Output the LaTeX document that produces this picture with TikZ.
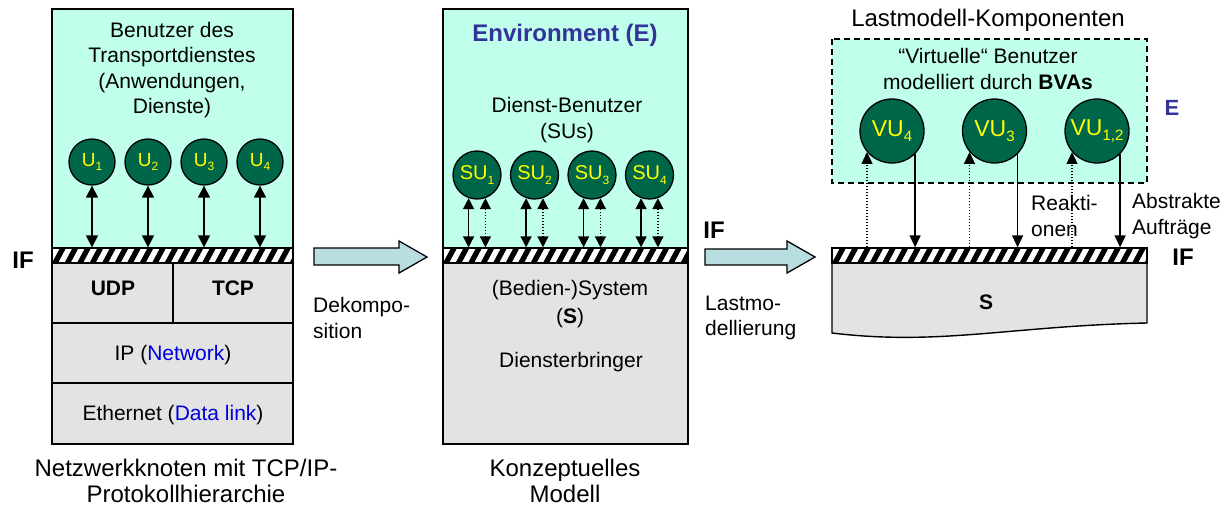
\documentclass[tikz,border=0pt]{standalone}
\usepackage{fontspec}
\setmainfont{Liberation Sans}
\usetikzlibrary{arrows.meta,positioning}
\definecolor{envcyan}{HTML}{C0FFEB}
\definecolor{sysgrey}{HTML}{E3E3E3}
\definecolor{userg}{HTML}{00664A}
\definecolor{useryel}{HTML}{FFFF00}
\definecolor{arrblue}{HTML}{B8DEE2}
\definecolor{linkblue}{HTML}{0000DD}
\definecolor{envblue}{HTML}{333399}
\newcommand{\usub}[2][12]{\raisebox{-0.4ex}{\fontsize{#1}{#1}\selectfont#2}}
\tikzset{
	ifband/.style={draw,line width=1.3pt,fill=white,minimum height=15pt,inner sep=0pt,
		path picture={\foreach \k in {-1,...,27}
			\fill[black] ([xshift=\k*12.5pt]path picture bounding box.south west) -- ++(6pt,0pt) -- ++(8pt,15pt) -- ++(-6pt,0pt) -- cycle;}},
	user/.style={circle,draw,line width=1.3pt,fill=userg,text=useryel,inner sep=0pt},
	twoway/.style={line width=1.4pt,{Triangle[width=12pt,length=12pt]}-{Triangle[width=12pt,length=12pt]}},
	oneway/.style={line width=1.4pt,-{Triangle[width=11pt,length=12pt]}},
	dots/.style={line width=1.3pt,dash pattern=on 1.5pt off 1.5pt},
	bigarrow/.style={draw,line width=1.3pt,fill=arrblue},
	boldtext/.style={font=\fontsize{21}{21}\selectfont\bfseries},
	iftext/.style={font=\fontsize{24}{24}\selectfont\bfseries},
	capt/.style={font=\fontsize{24}{26}\selectfont}
}
\begin{document}
\begin{tikzpicture}[x=1pt,y=-1pt,every node/.style={font=\fontsize{21}{25.5}\selectfont,align=center,inner sep=0pt}]
	\useasboundingbox (0,0) rectangle (1230,506);
	\fill[envcyan] (52,9) rectangle (293,248);
	\fill[sysgrey] (52,263) rectangle (293,444);
	\draw[line width=1.3pt] (52,323) -- (293,323) (52,383) -- (293,383) (173,263) -- (173,323);
	\draw[line width=1.6pt] (52,9) rectangle (293,444);
	\node[ifband,minimum width=241pt] (if1) at (172.5,255.5) {};
	\node (tusers) at (172,70) {Benutzer des\\Transportdienstes\\(Anwendungen,\\Dienste)};
	\node[user,minimum size=46pt,font=\fontsize{19}{19}\selectfont] (u1) at (92,162) {U\usub{1}};
	\foreach \x/\y in {2/1,3/2,4/3}
		\node[user,minimum size=46pt,font=\fontsize{19}{19}\selectfont,node distance=56pt,right of=u\y] (u\x) {U\usub{\x}};
	\foreach \x in {1,...,4}
		\draw[twoway] (u\x) -- (u\x |- if1.north);
	\node[iftext] (ifleft) at (23,260) {IF};
	\node[boldtext] (udp) at (113,288) {UDP};
	\node[boldtext] (tcp) at (233,288) {TCP};
	\node (ip) at (173,355) {IP (\textcolor{linkblue}{Network})};
	\node (eth) at (173,415) {Ethernet (\textcolor{linkblue}{Data link})};
	\node[capt] (node1) at (186,481) {Netzwerkknoten mit TCP/IP-\\Protokollhierarchie};

	\draw[bigarrow] (314,248) -- (399,248) -- (399,241) -- (427,257) -- (399,273) -- (399,265) -- (314,265) -- cycle;
	\node[anchor=west,align=left] (dekomp) at (313,318) {Dekompo-\\sition};

	\fill[envcyan] (443,9) rectangle (688,248);
	\fill[sysgrey] (443,263) rectangle (688,444);
	\draw[line width=1.6pt] (443,9) rectangle (688,444);
	\node[ifband,minimum width=245pt] (if2) at (565.5,255.5) {};
	\node[font=\fontsize{24}{24}\selectfont\bfseries,text=envblue] (env) at (565,35) {Environment (E)};
	\node (tsu) at (567,120) {Dienst-Benutzer\\(SUs)};
	\node[user,minimum size=48pt,font=\fontsize{20}{20}\selectfont] (su1) at (477,175) {SU\usub{1}};
	\foreach \x/\y in {2/1,3/2,4/3}
		\node[user,minimum size=48pt,font=\fontsize{20}{20}\selectfont,node distance=57.5pt,right of=su\y] (su\x) {SU\usub{\x}};
	\foreach \x in {1,...,4} {
		\draw[twoway,{Triangle[width=11pt,length=11pt]}-{Triangle[width=11pt,length=11pt]}] (su\x.-110) -- (su\x.-110 |- if2.north);
		\draw[twoway,dots,{Triangle[width=11pt,length=11pt]}-{Triangle[width=11pt,length=11pt]}] (su\x.-70) -- (su\x.-70 |- if2.north);
	}
	\node[font=\fontsize{21}{28}\selectfont] (sys) at (570,304) {(Bedien-)System\\(\textbf{S})};
	\node (prov) at (571,362) {Diensterbringer};
	\node[capt] (node2) at (565,481) {Konzeptuelles\\Modell};

	\node[iftext] (ifmid) at (714,230) {IF};
	\draw[bigarrow] (705,249) -- (787,249) -- (787,241) -- (815,257) -- (787,273) -- (787,265) -- (705,265) -- cycle;
	\node[anchor=west,align=left] (lastmod) at (705,318) {Lastmo-\\dellierung};

	\node[capt] (comp) at (988,20) {Lastmodell-Komponenten};
	\draw[line width=1.4pt,dash pattern=on 6pt off 4pt,fill=envcyan] (832,39) rectangle (1147,183);
	\node (tvu) at (988,69) {“Virtuelle“ Benutzer\\modelliert durch \textbf{BVAs}};
	\node[font=\fontsize{22}{22}\selectfont\bfseries,text=envblue] (e) at (1172,108) {E};
	\node[user,minimum size=64pt,font=\fontsize{23}{23}\selectfont] (vu4) at (892,131) {VU\usub[15]{4}};
	\node[user,minimum size=64pt,font=\fontsize{23}{23}\selectfont,node distance=102.5pt,right of=vu4] (vu3) {VU\usub[15]{3}};
	\node[user,minimum size=64pt,font=\fontsize{23}{23}\selectfont,node distance=102.5pt,right of=vu3] (vu12) {VU\usub[15]{1,2}};
	\fill[sysgrey] (832,263) -- (1147,263) -- (1147,323) .. controls (1010,326) and (940,346) .. (832,333) -- cycle;
	\draw[line width=1.4pt] (832,263) -- (832,333) .. controls (940,346) and (1010,326) .. (1147,323) -- (1147,263);
	\node[ifband,minimum width=315pt] (if3) at (989.5,255.5) {};
	\foreach \v in {vu4,vu3,vu12} {
		\draw[oneway,dots] (\v.-140 |- if3.north) -- (\v.-140);
		\draw[oneway] (\v.-45) -- (\v.-45 |- if3.north);
	}
	\node[anchor=west,align=left] (reakt) at (1031,216) {Reakti-\\onen};
	\node[anchor=west,align=left] (auftr) at (1132,216) {Abstrakte\\Aufträge};
	\node[iftext] (ifright) at (1183,257) {IF};
	\node[font=\fontsize{21}{21}\selectfont\bfseries] (s) at (986,302) {S};
\end{tikzpicture}
\end{document}
